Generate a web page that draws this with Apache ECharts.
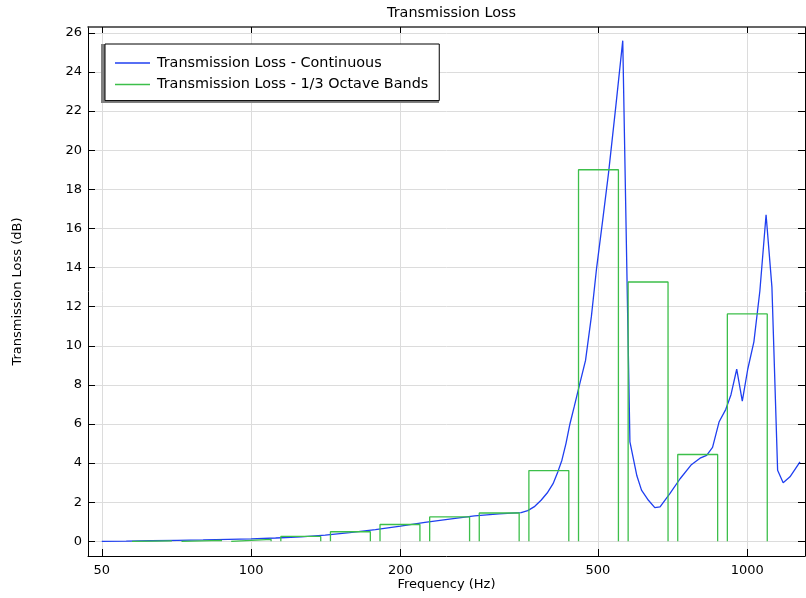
<!DOCTYPE html>
<html><head><meta charset="utf-8">
<script src="https://cdn.jsdelivr.net/npm/echarts@6/dist/echarts.min.js"></script>
<style>html,body{margin:0;padding:0;background:#fff}#c{width:806px;height:598px}</style>
</head><body><div id="c"></div>
<script>
// ---- data ----
const freqContinuous = [50,56,63,71,80,90,100,112,126,141,158,178,200,224,251,282,316,335,350,361,373,384,395,406,415,423,431,439,448,460,472,485,497,511,525,543,561,580,599,612,632,651,667,698,732,770,803,828,851,877,905,927,952,977,1002,1031,1060,1091,1121,1151,1181,1219,1277];
const tlContinuous = [0,0.01,0.03,0.05,0.07,0.10,0.13,0.17,0.23,0.32,0.44,0.60,0.78,0.97,1.14,1.30,1.40,1.44,1.47,1.57,1.79,2.10,2.47,2.95,3.55,4.15,5.00,6.00,6.90,8.10,9.25,11.5,14.0,16.4,18.8,22.2,25.6,5.08,3.35,2.62,2.10,1.72,1.76,2.44,3.20,3.90,4.25,4.40,4.80,6.10,6.75,7.50,8.80,7.17,8.80,10.2,12.8,16.7,13.0,3.63,3.00,3.30,4.06];
const bandCenters = [63.1,79.4,100,125.9,158.5,199.5,251.2,316.2,398.1,501.2,631,794.3,1000];
const bandTL = [0.02,0.05,0.10,0.25,0.49,0.86,1.25,1.45,3.62,19.0,13.26,4.44,11.63];
const xTickValues = [50,100,200,500,1000];
const yTickValues = [0,2,4,6,8,10,12,14,16,18,20,22,24,26];
const seriesNames = ['Transmission Loss - Continuous','Transmission Loss - 1/3 Octave Bands'];

// ---- build ----
const bandHalf = 1.097;
const contData = freqContinuous.map((f,i)=>[f,tlContinuous[i]]);
const bandData = [];
bandCenters.forEach((c,i)=>{
  const lo = c/bandHalf, hi = c*bandHalf;
  bandData.push([lo,0],[lo,bandTL[i]],[hi,bandTL[i]],[hi,0],[hi,'-']);
});

const FONT = 'DejaVu Sans';
const BLUE = '#1f3ff0', GREEN = '#3cbf4a';
const XMIN = 46.9, XMAX = 1307, YMIN = -0.75, YMAX = 26.3;
const chart = echarts.init(document.getElementById('c'));
chart.setOption({
  animation:false,
  backgroundColor:'#fff',
  title:{text:'Transmission Loss',left:382,top:1,textStyle:{fontFamily:FONT,fontSize:14.4,fontWeight:'normal',color:'#000'}},
  grid:{left:88,right:1,top:27,bottom:42,containLabel:false,outerBoundsMode:'none'},
  graphic:[{type:'rect',left:101,top:44,shape:{width:338,height:59},style:{fill:'#808080'},z:3}],
  legend:{
    orient:'vertical',left:105,top:44,z:10,
    padding:[12,11,9,10],itemWidth:35,itemHeight:1.5,itemGap:7.6,icon:'rect',
    backgroundColor:'#fff',borderColor:'#000',borderWidth:1,
    textStyle:{fontFamily:FONT,fontSize:14.4,color:'#000',padding:[0,0,0,2]},
    data:[{name:seriesNames[0],itemStyle:{color:BLUE}},{name:seriesNames[1],itemStyle:{color:GREEN}}]
  },
  xAxis:[{
    type:'log',logBase:10,min:XMIN,max:XMAX,position:'bottom',
    name:'Frequency (Hz)',nameLocation:'middle',nameGap:22,nameMoveOverlap:false,
    nameTextStyle:{fontFamily:FONT,fontSize:13,color:'#000'},
    axisLine:{show:true,onZero:false,lineStyle:{color:'#000',width:1}},
    axisTick:{show:true,inside:true,length:7,customValues:xTickValues,lineStyle:{color:'#000',width:1}},
    axisLabel:{customValues:xTickValues,margin:8,fontFamily:FONT,fontSize:13,color:'#000',formatter:v=>String(Math.round(v))},
    splitLine:{show:true,lineStyle:{color:'#dcdcdc',width:1}},
    minorTick:{show:false},minorSplitLine:{show:false}
  },{
    type:'log',logBase:10,min:XMIN,max:XMAX,position:'top',
    axisLine:{show:true,onZero:false,lineStyle:{color:'#333',width:1.5}},
    axisTick:{show:true,inside:true,length:6,customValues:xTickValues,lineStyle:{color:'#000',width:1}},
    axisLabel:{show:false},splitLine:{show:false}
  }],
  yAxis:[{
    type:'value',min:YMIN,max:YMAX,position:'left',
    name:'Transmission Loss (dB)',nameLocation:'middle',nameGap:64,nameMoveOverlap:false,
    nameTextStyle:{fontFamily:FONT,fontSize:13,color:'#000'},
    axisLine:{show:true,onZero:false,lineStyle:{color:'#000',width:1}},
    axisTick:{show:true,inside:true,length:7,customValues:yTickValues,lineStyle:{color:'#000',width:1}},
    axisLabel:{customValues:yTickValues,margin:6,fontFamily:FONT,fontSize:13,color:'#000'},
    splitLine:{show:true,lineStyle:{color:'#dcdcdc',width:1}}
  },{
    type:'value',min:YMIN,max:YMAX,position:'right',
    axisLine:{show:true,onZero:false,lineStyle:{color:'#000',width:1}},
    axisTick:{show:true,inside:true,length:7,customValues:yTickValues,lineStyle:{color:'#000'}},
    axisLabel:{show:false},splitLine:{show:false}
  }],
  series:[{
    name:seriesNames[0],type:'line',xAxisIndex:0,yAxisIndex:0,data:contData,
    symbol:'none',showSymbol:false,lineStyle:{color:BLUE,width:1.3},itemStyle:{color:BLUE},z:3
  },{
    name:seriesNames[1],type:'line',xAxisIndex:0,yAxisIndex:0,data:bandData,connectNulls:false,
    symbol:'none',showSymbol:false,lineStyle:{color:GREEN,width:1.3},itemStyle:{color:GREEN},z:4
  }]
});
</script>
</body></html>
